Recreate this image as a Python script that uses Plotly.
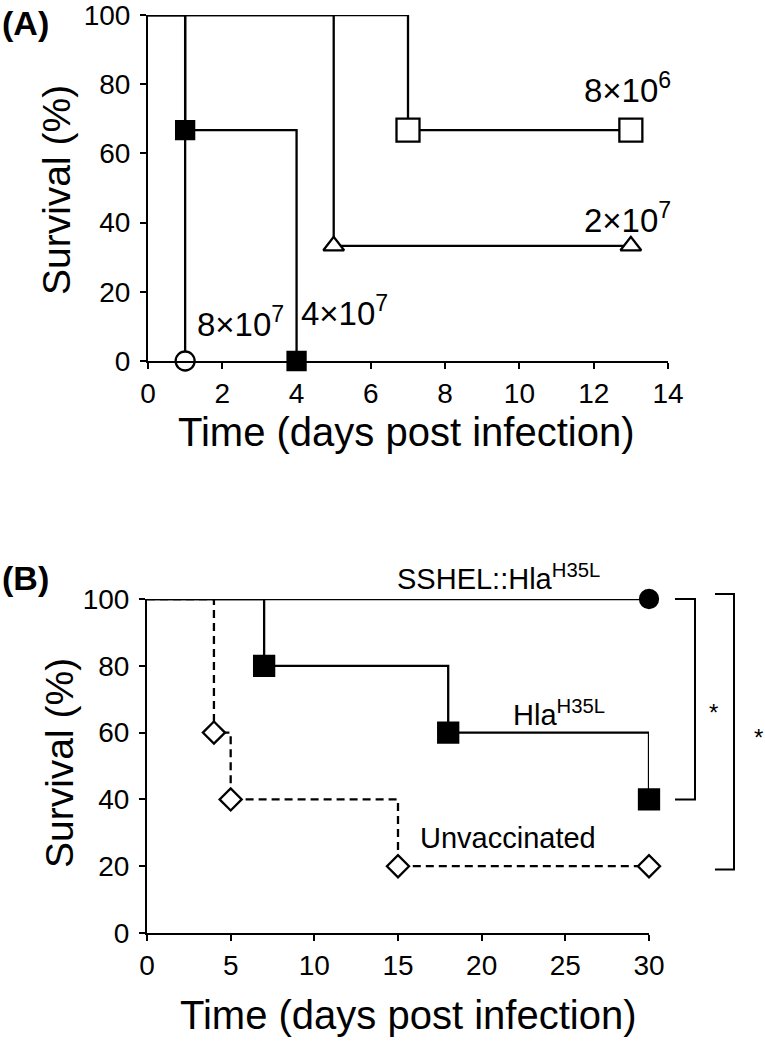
import plotly.graph_objects as go

# ---------------- Data ----------------
# Panel A: survival by inoculum dose
a_labels = ["8×10<sup>7</sup>", "4×10<sup>7</sup>", "2×10<sup>7</sup>", "8×10<sup>6</sup>"]
a_t_8e7 = [0, 1]
a_s_8e7 = [100, 0]
a_t_4e7 = [0, 1, 4]
a_s_4e7 = [100, 66.7, 0]
a_t_2e7 = [0, 5, 13]
a_s_2e7 = [100, 33.3, 33.3]
a_t_8e6 = [0, 7, 13]
a_s_8e6 = [100, 66.7, 66.7]

# Panel B: vaccination groups
b_labels = ["SSHEL::Hla<sup>H35L</sup>", "Hla<sup>H35L</sup>", "Unvaccinated"]
b_t_sshel = [0, 30]
b_s_sshel = [100, 100]
b_t_hla = [0, 7, 18, 30]
b_s_hla = [100, 80, 60, 40]
b_t_unv = [0, 4, 5, 15, 30]
b_s_unv = [100, 60, 40, 20, 20]

a_xticks = [0, 2, 4, 6, 8, 10, 12, 14]
b_xticks = [0, 5, 10, 15, 20, 25, 30]
y_ticks = [0, 20, 40, 60, 80, 100]

# significance brackets (survival range spanned) in panel B
brackets = [(100, 40), (101.5, 19)]

FONT = "Arial, Liberation Sans, sans-serif"
W, H = 765, 1041


def PX(x):
    return x / W


def PY(y):
    return 1 - y / H


A_XDOM = [PX(148), PX(668)]
A_YDOM = [PY(361), PY(15)]
B_XDOM = [PX(147), PX(649)]
B_YDOM = [PY(933), PY(599)]

fig = go.Figure()


def km(t, s, xa, ya, symbol, fill, size, dash="solid"):
    fig.add_trace(go.Scatter(x=t, y=s, mode="lines", line=dict(color="black", width=2.3, shape="hv", dash=dash),
                             xaxis=xa, yaxis=ya, showlegend=False, hoverinfo="skip", cliponaxis=False))
    fig.add_trace(go.Scatter(x=t[1:], y=s[1:], mode="markers",
                             marker=dict(symbol=symbol, size=size, color=fill, line=dict(color="black", width=2.3)),
                             xaxis=xa, yaxis=ya, showlegend=False, cliponaxis=False))


km(a_t_8e6, a_s_8e6, "x", "y", "square", "white", 23)
km(a_t_2e7, a_s_2e7, "x", "y", "triangle-up", "white", 18)
km(a_t_4e7, a_s_4e7, "x", "y", "square", "black", 18)
km(a_t_8e7, a_s_8e7, "x", "y", "circle", "white", 19)

km(b_t_sshel, b_s_sshel, "x2", "y2", "circle", "black", 18)
km(b_t_hla, b_s_hla, "x2", "y2", "square", "black", 20)
km(b_t_unv, b_s_unv, "x2", "y2", "diamond", "white", 17, dash="8px,5px")

axis_common = dict(showline=True, linecolor="black", linewidth=2, ticks="outside", ticklen=6, tickwidth=2,
                   tickcolor="black", showgrid=False, zeroline=False, automargin=False,
                   ticklabeloverflow="allow",
                   tickfont=dict(family=FONT, size=28, color="black"))

fig.update_layout(
    template="none",
    width=W, height=H, margin=dict(l=0, r=0, t=0, b=0), autosize=False,
    paper_bgcolor="white", plot_bgcolor="white", showlegend=False,
    xaxis=dict(domain=A_XDOM, range=[0, 14], tickvals=a_xticks, anchor="y", **axis_common),
    yaxis=dict(domain=A_YDOM, range=[0, 100], tickvals=y_ticks, anchor="x", ticklabelstandoff=4, **axis_common),
    xaxis2=dict(domain=B_XDOM, range=[0, 30], tickvals=b_xticks, anchor="y2", **axis_common),
    yaxis2=dict(domain=B_YDOM, range=[0, 100], tickvals=y_ticks, anchor="x2", ticklabelstandoff=4, **axis_common),
)


def bx(v):
    return B_XDOM[0] + v / 30 * (B_XDOM[1] - B_XDOM[0])


def by(v):
    return B_YDOM[0] + v / 100 * (B_YDOM[1] - B_YDOM[0])


def txt(text, x, y, size, xref="paper", yref="paper", xanchor="center", yanchor="middle", angle=0):
    return dict(text=text, x=x, y=y, xref=xref, yref=yref, xanchor=xanchor, yanchor=yanchor,
                textangle=angle, showarrow=False, font=dict(family=FONT, size=size, color="black"))


ann = []
# axis titles
ann.append(txt("Time (days post infection)", PX(406), PY(432), 40))
ann.append(txt("Survival (%)", PX(56), PY(190), 39, angle=-90))
ann.append(txt("Time (days post infection)", PX(408), PY(1015), 40))
ann.append(txt("Survival (%)", PX(59), PY(763), 39, angle=-90))

# panel A curve labels
a_pos = [(2.48, 11.3), (5.3, 14.5), (12.9, 41.3), (12.9, 78.9)]
for t, (x, y) in zip(a_labels, a_pos):
    ann.append(txt(t, x, y, 33, xref="x", yref="y"))
# panel B curve labels (paper coords so the label above the axis range is drawn)
b_pos = [(21.0, 106.6), (24.6, 65.9), (21.6, 28.4)]
for t, (x, y) in zip(b_labels, b_pos):
    ann.append(txt(t, bx(x), by(y), 29))
# panel letters
ann.append(txt("<b>(A)</b>", 0, PY(23), 34, xanchor="left"))
ann.append(txt("<b>(B)</b>", 0, PY(578), 34, xanchor="left"))

# brackets and stars
br_x = [(PX(675), PX(695)), (PX(715), PX(734))]
star_pos = [(PX(713), PY(712)), (PX(758), PY(737))]
shapes = []
for (top, bot), (x0, x1), (sx, sy) in zip(brackets, br_x, star_pos):
    shapes.append(dict(type="path", xref="paper", yref="paper",
                       path=f"M {x0},{by(top)} L {x1},{by(top)} L {x1},{by(bot)} L {x0},{by(bot)}",
                       line=dict(color="black", width=2)))
    ann.append(txt("*", sx, sy, 24))

fig.update_layout(annotations=ann, shapes=shapes)
fig.write_html("out.html", config={"displayModeBar": False},
               post_script="document.body.style.margin='0';")
